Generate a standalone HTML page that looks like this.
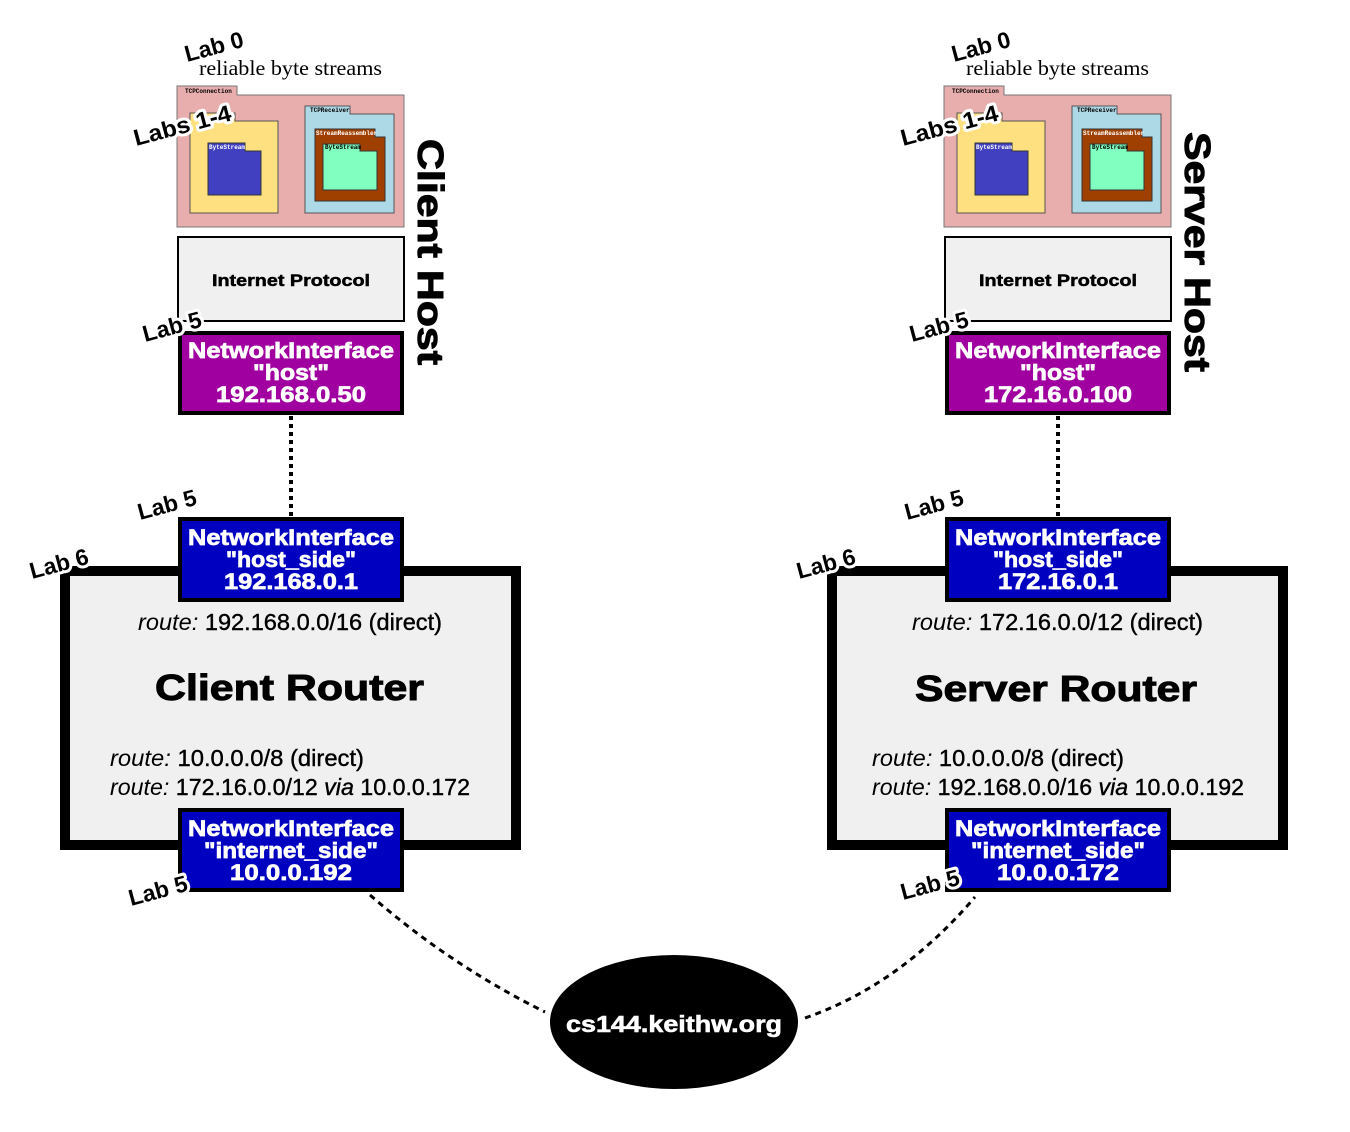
<!DOCTYPE html>
<html><head><meta charset="utf-8"><style>
html,body{margin:0;padding:0;background:#fff;}
svg{display:block;font-family:"Liberation Sans",sans-serif;}
.lab{font-weight:bold;font-size:23px;fill:#000;stroke:#fff;stroke-width:6px;paint-order:stroke;stroke-linejoin:round;}
.labi{font-weight:bold;font-size:23px;fill:none;stroke:#000;stroke-width:0.8px;}
.ni{font-weight:bold;font-size:22px;fill:#fff;text-anchor:middle;stroke:#fff;stroke-width:0.7px;}
.tiny{font-family:"Liberation Mono",monospace;font-size:6px;font-weight:bold;}
.rt{font-size:23px;fill:#000;stroke:#000;stroke-width:0.4px;}
.big{font-weight:bold;font-size:36px;stroke:#000;stroke-width:1px;}
</style></head><body>
<svg width="1350" height="1132" viewBox="0 0 1350 1132" xmlns="http://www.w3.org/2000/svg">
<line x1="291" y1="416" x2="291" y2="517" stroke="#000" stroke-width="4" stroke-dasharray="4,4"/>
<line x1="1058" y1="416" x2="1058" y2="517" stroke="#000" stroke-width="4" stroke-dasharray="4,4"/>
<path d="M370,895 Q450,965 545,1012" fill="none" stroke="#000" stroke-width="3" stroke-dasharray="6,5"/>
<path d="M805,1018 Q900,985 975,897" fill="none" stroke="#000" stroke-width="3" stroke-dasharray="6,5"/>
<ellipse cx="674" cy="1022" rx="124" ry="67" fill="#000"/>
<text x="674" y="1032" text-anchor="middle" font-weight="bold" font-size="23" fill="#fff" stroke="#fff" stroke-width="0.6" textLength="216" lengthAdjust="spacingAndGlyphs">cs144.keithw.org</text>

<g id="client">
<text x="199" y="75" font-family="Liberation Serif,serif" font-size="21" textLength="183" lengthAdjust="spacingAndGlyphs">reliable byte streams</text>
<path d="M177,86 H237 V95 H404 V227 H177 Z" fill="#e8adad" stroke="#777" stroke-width="1"/>
<path d="M190,113 H235 V121 H278 V213 H190 Z" fill="#ffe080" stroke="#555" stroke-width="1"/>
<path d="M208,143 H245 V151 H261 V195 H208 Z" fill="#4040c0" stroke="#333" stroke-width="1"/>
<path d="M305,106 H350 V114 H394 V213 H305 Z" fill="#add8e6" stroke="#555" stroke-width="1"/>
<path d="M315,129 H375 V137 H385 V201 H315 Z" fill="#a04000" stroke="#333" stroke-width="1"/>
<path d="M323,144 H360 V151 H377 V190 H323 Z" fill="#80ffc0" stroke="#333" stroke-width="1"/>
<text x="185" y="93" class="tiny">TCPConnection</text>
<text x="209" y="149" class="tiny" fill="#fff">ByteStream</text>
<text x="310" y="112" class="tiny">TCPReceiver</text>
<text x="316" y="135" class="tiny" fill="#fff">StreamReassembler</text>
<text x="325" y="149" class="tiny">ByteStream</text>
<rect x="178" y="237" width="226" height="84" fill="#f0f0f0" stroke="#000" stroke-width="2"/>
<text x="291" y="286" text-anchor="middle" font-weight="bold" font-size="17" stroke="#000" stroke-width="0.5" textLength="158" lengthAdjust="spacingAndGlyphs">Internet Protocol</text>
<rect x="180" y="333" width="222" height="80" fill="#a000a0" stroke="#000" stroke-width="4"/>
<text class="ni" x="291" y="358" textLength="206" lengthAdjust="spacingAndGlyphs">NetworkInterface</text>
<text class="ni" x="291" y="380" textLength="76" lengthAdjust="spacingAndGlyphs">"host"</text>
<text class="ni" x="291" y="402" textLength="150" lengthAdjust="spacingAndGlyphs">192.168.0.50</text>
<rect x="65" y="571" width="451" height="274" fill="#f0f0f0" stroke="#000" stroke-width="10"/>
<rect x="180" y="519" width="222" height="81" fill="#0000c0" stroke="#000" stroke-width="4"/>
<text class="ni" x="291" y="545" textLength="206" lengthAdjust="spacingAndGlyphs">NetworkInterface</text>
<text class="ni" x="291" y="567" textLength="130" lengthAdjust="spacingAndGlyphs">"host_side"</text>
<text class="ni" x="291" y="589" textLength="134" lengthAdjust="spacingAndGlyphs">192.168.0.1</text>
<rect x="180" y="810" width="222" height="80" fill="#0000c0" stroke="#000" stroke-width="4"/>
<text class="ni" x="291" y="836" textLength="206" lengthAdjust="spacingAndGlyphs">NetworkInterface</text>
<text class="ni" x="291" y="858" textLength="174" lengthAdjust="spacingAndGlyphs">"internet_side"</text>
<text class="ni" x="291" y="880" textLength="122" lengthAdjust="spacingAndGlyphs">10.0.0.192</text>
<text class="rt" x="138" y="630" textLength="304" lengthAdjust="spacingAndGlyphs"><tspan font-style="italic" stroke-width="0">route:</tspan> 192.168.0.0/16 (direct)</text>
<text class="big" x="155" y="700" textLength="269" lengthAdjust="spacingAndGlyphs">Client Router</text>
<text class="rt" x="110" y="766" textLength="254" lengthAdjust="spacingAndGlyphs"><tspan font-style="italic" stroke-width="0">route:</tspan> 10.0.0.0/8 (direct)</text>
<text class="rt" x="110" y="795" textLength="360" lengthAdjust="spacingAndGlyphs"><tspan font-style="italic" stroke-width="0">route:</tspan> 172.16.0.0/12 <tspan font-style="italic">via</tspan> 10.0.0.172</text>
<text class="big" x="418" y="252" transform="rotate(90 418 252)" text-anchor="middle" textLength="226" lengthAdjust="spacingAndGlyphs">Client Host</text>
<text class="lab" transform="translate(187,62) rotate(-15)">Lab 0</text>
<text class="lab" transform="translate(136,146) rotate(-15)" textLength="100" lengthAdjust="spacingAndGlyphs">Labs 1-4</text>
<text class="lab" transform="translate(145,342) rotate(-15)">Lab 5</text>
<text class="lab" transform="translate(140,520) rotate(-15)">Lab 5</text>
<text class="lab" transform="translate(32,579) rotate(-15)">Lab 6</text>
<text class="lab" transform="translate(131,906) rotate(-15)">Lab 5</text>
</g>

<g id="server">
<text x="966" y="75" font-family="Liberation Serif,serif" font-size="21" textLength="183" lengthAdjust="spacingAndGlyphs">reliable byte streams</text>
<g transform="translate(767,0)">
<path d="M177,86 H237 V95 H404 V227 H177 Z" fill="#e8adad" stroke="#777" stroke-width="1"/>
<path d="M190,113 H235 V121 H278 V213 H190 Z" fill="#ffe080" stroke="#555" stroke-width="1"/>
<path d="M208,143 H245 V151 H261 V195 H208 Z" fill="#4040c0" stroke="#333" stroke-width="1"/>
<path d="M305,106 H350 V114 H394 V213 H305 Z" fill="#add8e6" stroke="#555" stroke-width="1"/>
<path d="M315,129 H375 V137 H385 V201 H315 Z" fill="#a04000" stroke="#333" stroke-width="1"/>
<path d="M323,144 H360 V151 H377 V190 H323 Z" fill="#80ffc0" stroke="#333" stroke-width="1"/>
<text x="185" y="93" class="tiny">TCPConnection</text>
<text x="209" y="149" class="tiny" fill="#fff">ByteStream</text>
<text x="310" y="112" class="tiny">TCPReceiver</text>
<text x="316" y="135" class="tiny" fill="#fff">StreamReassembler</text>
<text x="325" y="149" class="tiny">ByteStream</text>
<rect x="178" y="237" width="226" height="84" fill="#f0f0f0" stroke="#000" stroke-width="2"/>
<text x="291" y="286" text-anchor="middle" font-weight="bold" font-size="17" stroke="#000" stroke-width="0.5" textLength="158" lengthAdjust="spacingAndGlyphs">Internet Protocol</text>
<rect x="180" y="333" width="222" height="80" fill="#a000a0" stroke="#000" stroke-width="4"/>
<text class="ni" x="291" y="358" textLength="206" lengthAdjust="spacingAndGlyphs">NetworkInterface</text>
<text class="ni" x="291" y="380" textLength="76" lengthAdjust="spacingAndGlyphs">"host"</text>
<text class="ni" x="291" y="402" textLength="148" lengthAdjust="spacingAndGlyphs">172.16.0.100</text>
<rect x="65" y="571" width="451" height="274" fill="#f0f0f0" stroke="#000" stroke-width="10"/>
<rect x="180" y="519" width="222" height="81" fill="#0000c0" stroke="#000" stroke-width="4"/>
<text class="ni" x="291" y="545" textLength="206" lengthAdjust="spacingAndGlyphs">NetworkInterface</text>
<text class="ni" x="291" y="567" textLength="130" lengthAdjust="spacingAndGlyphs">"host_side"</text>
<text class="ni" x="291" y="589" textLength="120" lengthAdjust="spacingAndGlyphs">172.16.0.1</text>
<rect x="180" y="810" width="222" height="80" fill="#0000c0" stroke="#000" stroke-width="4"/>
<text class="ni" x="291" y="836" textLength="206" lengthAdjust="spacingAndGlyphs">NetworkInterface</text>
<text class="ni" x="291" y="858" textLength="174" lengthAdjust="spacingAndGlyphs">"internet_side"</text>
<text class="ni" x="291" y="880" textLength="122" lengthAdjust="spacingAndGlyphs">10.0.0.172</text>
<text class="rt" x="145" y="630" textLength="291" lengthAdjust="spacingAndGlyphs"><tspan font-style="italic" stroke-width="0">route:</tspan> 172.16.0.0/12 (direct)</text>
<text class="big" x="148" y="701" textLength="282" lengthAdjust="spacingAndGlyphs">Server Router</text>
<text class="rt" x="105" y="766" textLength="252" lengthAdjust="spacingAndGlyphs"><tspan font-style="italic" stroke-width="0">route:</tspan> 10.0.0.0/8 (direct)</text>
<text class="rt" x="105" y="795" textLength="372" lengthAdjust="spacingAndGlyphs"><tspan font-style="italic" stroke-width="0">route:</tspan> 192.168.0.0/16 <tspan font-style="italic">via</tspan> 10.0.0.192</text>
<text class="big" x="418" y="252" transform="rotate(90 418 252)" text-anchor="middle" textLength="240" lengthAdjust="spacingAndGlyphs">Server Host</text>
<text class="lab" transform="translate(187,62) rotate(-15)">Lab 0</text>
<text class="lab" transform="translate(136,146) rotate(-15)" textLength="100" lengthAdjust="spacingAndGlyphs">Labs 1-4</text>
<text class="lab" transform="translate(145,342) rotate(-15)">Lab 5</text>
<text class="lab" transform="translate(140,520) rotate(-15)">Lab 5</text>
<text class="lab" transform="translate(32,579) rotate(-15)">Lab 6</text>
<text class="lab" transform="translate(136,900) rotate(-15)">Lab 5</text>
</g>
</g>
</svg>
</body></html>
